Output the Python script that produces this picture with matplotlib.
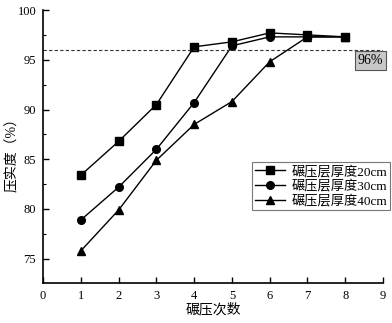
import matplotlib
matplotlib.use("Agg")
import matplotlib.pyplot as plt
from matplotlib.ticker import MultipleLocator

plt.rcParams["font.family"] = ["Liberation Serif", "Noto Sans CJK SC"]

passes = [1, 2, 3, 4, 5, 6, 7, 8]
thick_20 = [83.4, 86.8, 90.5, 96.3, 96.8, 97.7, 97.5, 97.3]
thick_30 = [78.9, 82.2, 86.0, 90.7, 96.4, 97.3, 97.3, 97.3]
thick_40 = [75.8, 79.9, 84.9, 88.5, 90.8, 94.8, 97.3, 97.3]
labels = ["碾压层厚度20cm", "碾压层厚度30cm", "碾压层厚度40cm"]
threshold = 96

fig = plt.figure(figsize=(3.92, 3.23), dpi=100)
ax = fig.add_axes([0.11, 0.125, 0.867, 0.844])

for ys, mk, lab in zip([thick_20, thick_30, thick_40], ["s", "o", "^"], labels):
    ax.plot(passes, ys, color="black", linewidth=1.0, marker=mk,
            markersize=5.5, label=lab)

ax.axhline(threshold, color="#333333", linestyle=(0, (3, 2)), linewidth=0.8)
ax.text(8.66, 94.9, "96%", ha="center", va="center", fontsize=10,
        bbox=dict(boxstyle="square,pad=0.2", facecolor="#c8c8c8",
                  edgecolor="#555555", linewidth=0.8))

ax.set_xlim(0, 9)
ax.set_ylim(72.6, 100)
ax.xaxis.set_major_locator(MultipleLocator(1))
ax.yaxis.set_major_locator(MultipleLocator(5))
ax.yaxis.set_minor_locator(MultipleLocator(2.5))
ax.tick_params(direction="in", labelsize=9, length=4, width=1, pad=5)
ax.tick_params(which="minor", direction="in", length=2, width=0.8)
for side in ("top", "right"):
    ax.spines[side].set_visible(False)
for side in ("left", "bottom"):
    ax.spines[side].set_linewidth(1.2)

ax.set_xlabel("碾压次数", fontsize=10, labelpad=1)
ax.set_ylabel("压实度（%）", fontsize=10)
ax.yaxis.set_label_coords(-0.072, 0.48)

leg = fig.legend(loc="upper right", bbox_to_anchor=(0.995, 0.497),
                 fontsize=9.5, frameon=True, fancybox=False,
                 handlelength=2.3, borderpad=0.2, labelspacing=0.15,
                 handletextpad=0.5, borderaxespad=0)
leg.get_frame().set_edgecolor("#555555")
leg.get_frame().set_linewidth(0.8)

fig.savefig("out.png", dpi=100)
